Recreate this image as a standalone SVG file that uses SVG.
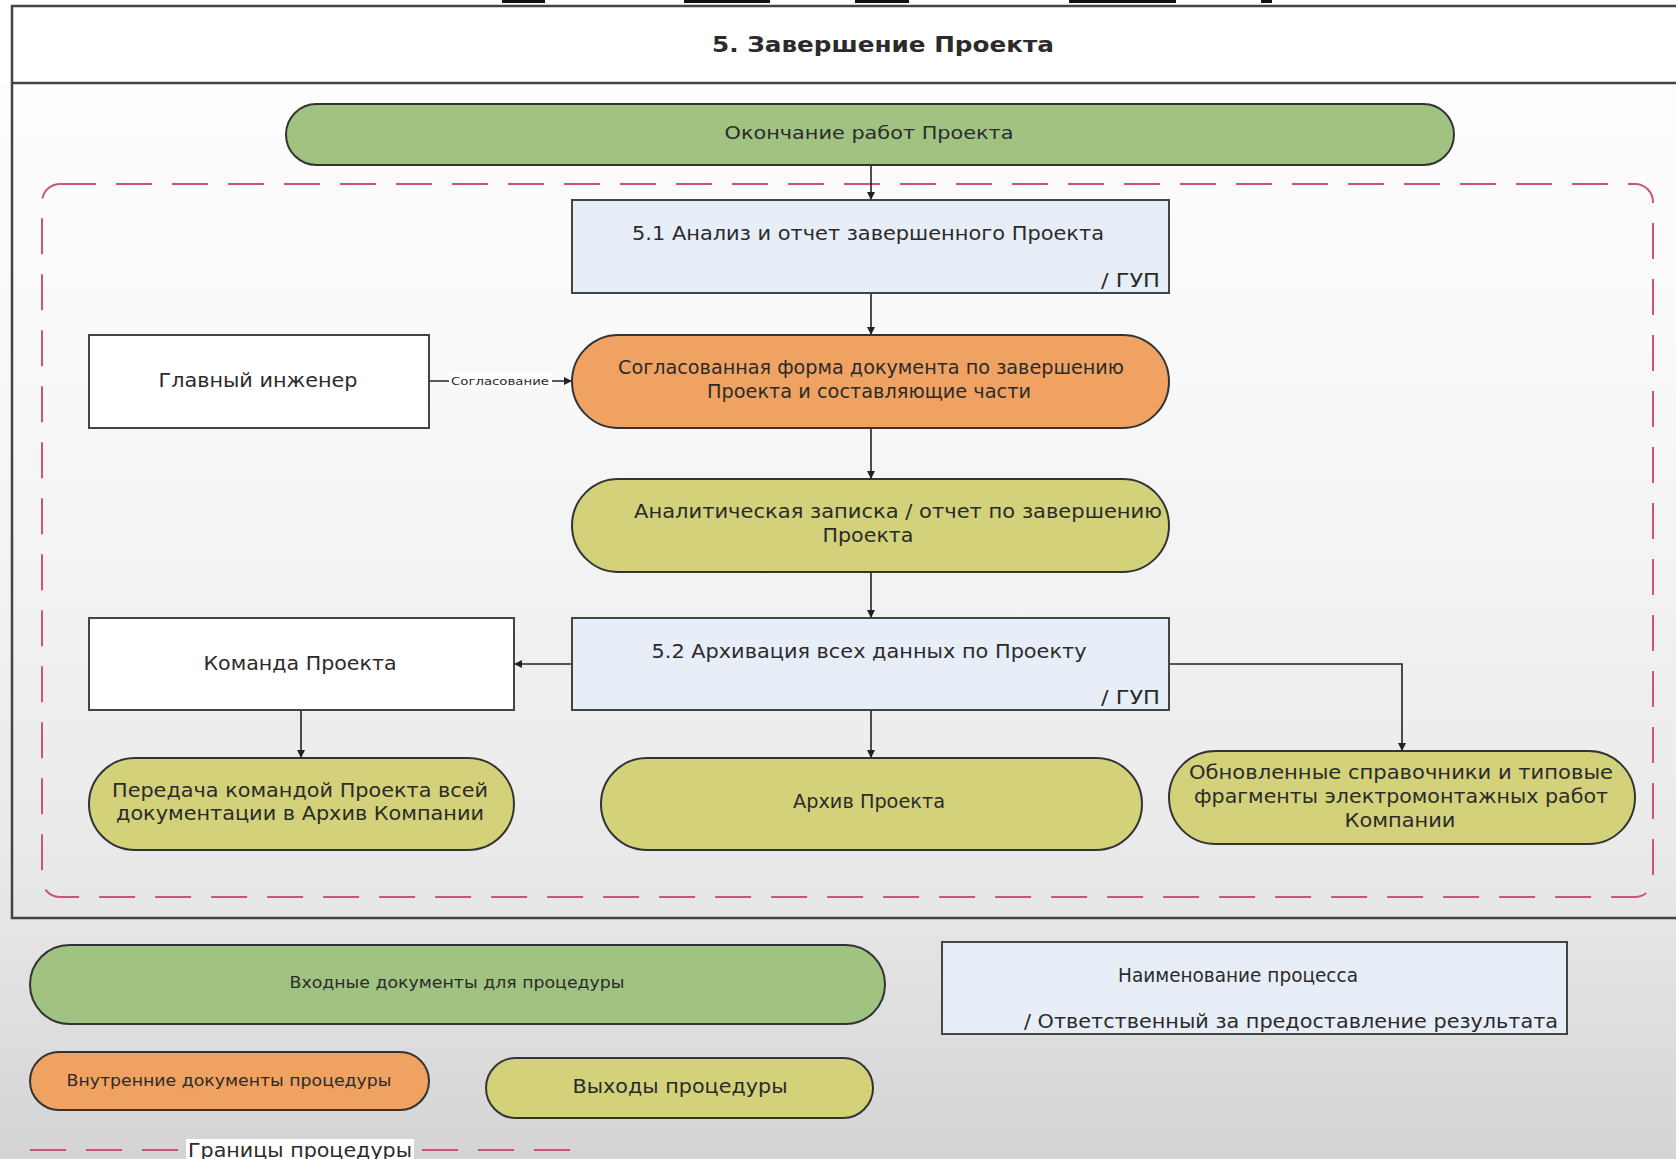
<svg xmlns="http://www.w3.org/2000/svg" width="1676" height="1159" viewBox="0 0 1676 1159">
  <defs>
    <linearGradient id="bg" x1="0" y1="0" x2="0" y2="1">
      <stop offset="0" stop-color="#ffffff"/>
      <stop offset="0.35" stop-color="#f8f8f8"/>
      <stop offset="0.75" stop-color="#e9e9e9"/>
      <stop offset="1" stop-color="#d4d4d4"/>
    </linearGradient>
    <marker id="arrow" viewBox="0 0 10 10" refX="10" refY="5" markerWidth="8" markerHeight="8" markerUnits="userSpaceOnUse" orient="auto">
      <path d="M0,0 L10,5 L0,10 z" fill="#222"/>
    </marker>
    <style>
      .frame { fill: none; stroke: #444; stroke-width: 2.5; }
      .inp { fill: #a0c382; stroke: #333; stroke-width: 2; }
      .int { fill: #f0a262; stroke: #333; stroke-width: 2; }
      .out { fill: #d3d27a; stroke: #333; stroke-width: 2; }
      .proc { fill: #e8eef8; stroke: #444; stroke-width: 2; }
      .role { fill: #ffffff; stroke: #444; stroke-width: 2; }
      .bound { fill: none; stroke: #cc5575; stroke-width: 2; stroke-dasharray: 36 20; }
      .conn { fill: none; stroke: #222; stroke-width: 1.6; }
      text { font-family: "DejaVu Sans", Verdana, sans-serif; fill: #2b2b2b; }
      .t { font-size: 19px; text-anchor: middle; }
      .r { font-size: 19px; text-anchor: end; }
      .c { text-anchor: middle; }
    </style>
  </defs>

  <!-- background -->
  <rect x="0" y="0" width="1676" height="1159" fill="url(#bg)"/>

  <!-- clipped text remnants along the upper edge -->
  <g fill="#111">
    <rect x="502" y="0" width="43" height="3"/>
    <rect x="684" y="0" width="86" height="3"/>
    <rect x="855" y="0" width="54" height="3"/>
    <rect x="1069" y="0" width="107" height="3"/>
    <rect x="1261" y="0" width="11" height="3"/>
  </g>

  <!-- outer frame with title band -->
  <g id="frame">
    <rect x="0" y="6" width="1676" height="77" fill="#ffffff"/>
    <path class="frame" d="M1680,6 H12 V918 H1680 M12,83 H1680"/>
    <text x="883" y="52" class="c" font-size="21" font-weight="bold" textLength="342" lengthAdjust="spacingAndGlyphs" fill="#111">5. Завершение Проекта</text>
  </g>

  <!-- procedure boundary -->
  <rect id="boundary" class="bound" x="42" y="184" width="1611" height="713" rx="18"/>

  <!-- connectors -->
  <g id="connectors">
    <path class="conn" d="M871,165 V200" marker-end="url(#arrow)"/>
    <path class="conn" d="M871,293 V335" marker-end="url(#arrow)"/>
    <path class="conn" d="M429,381 H572" marker-end="url(#arrow)"/>
    <path class="conn" d="M871,428 V479" marker-end="url(#arrow)"/>
    <path class="conn" d="M871,572 V618" marker-end="url(#arrow)"/>
    <path class="conn" d="M572,664 H514" marker-end="url(#arrow)"/>
    <path class="conn" d="M301,710 V758" marker-end="url(#arrow)"/>
    <path class="conn" d="M871,710 V758" marker-end="url(#arrow)"/>
    <path class="conn" d="M1169,664 H1402 V751" marker-end="url(#arrow)"/>
    <g id="label-agree">
      <rect x="449" y="373" width="103" height="15" fill="#ffffff"/>
      <text x="500" y="385" class="c" font-size="11" textLength="98" lengthAdjust="spacingAndGlyphs" fill="#222">Согласование</text>
    </g>
  </g>

  <!-- nodes -->
  <g id="n-start">
    <rect class="inp" x="286" y="104" width="1168" height="61" rx="30.5"/>
    <text x="869" y="139" class="c" font-size="18" textLength="289" lengthAdjust="spacingAndGlyphs">Окончание работ Проекта</text>
  </g>

  <g id="n-5-1">
    <rect class="proc" x="572" y="200" width="597" height="93"/>
    <text x="868" y="240" class="t" textLength="472" lengthAdjust="spacingAndGlyphs">5.1 Анализ и отчет завершенного Проекта</text>
    <text x="1160" y="287" class="r" textLength="59" lengthAdjust="spacingAndGlyphs">/ ГУП</text>
  </g>

  <g id="n-chief">
    <rect class="role" x="89" y="335" width="340" height="93"/>
    <text x="258" y="387" class="t" textLength="199" lengthAdjust="spacingAndGlyphs">Главный инженер</text>
  </g>

  <g id="n-agreed-form">
    <rect class="int" x="572" y="335" width="597" height="93" rx="46.5"/>
    <text x="871" y="374" class="t" textLength="506" lengthAdjust="spacingAndGlyphs">Согласованная форма документа по завершению</text>
    <text x="869" y="398" class="t" textLength="324" lengthAdjust="spacingAndGlyphs">Проекта и составляющие части</text>
  </g>

  <g id="n-analytic">
    <rect class="out" x="572" y="479" width="597" height="93" rx="46.5"/>
    <text x="898" y="518" class="t" textLength="528" lengthAdjust="spacingAndGlyphs">Аналитическая записка / отчет по завершению</text>
    <text x="868" y="542" class="t" textLength="91" lengthAdjust="spacingAndGlyphs">Проекта</text>
  </g>

  <g id="n-5-2">
    <rect class="proc" x="572" y="618" width="597" height="92"/>
    <text x="869" y="658" class="t" textLength="435" lengthAdjust="spacingAndGlyphs">5.2 Архивация всех данных по Проекту</text>
    <text x="1160" y="704" class="r" textLength="59" lengthAdjust="spacingAndGlyphs">/ ГУП</text>
  </g>

  <g id="n-team">
    <rect class="role" x="89" y="618" width="425" height="92"/>
    <text x="300" y="670" class="t" textLength="193" lengthAdjust="spacingAndGlyphs">Команда Проекта</text>
  </g>

  <g id="n-transfer">
    <rect class="out" x="89" y="758" width="425" height="92" rx="46"/>
    <text x="300" y="797" class="t" textLength="376" lengthAdjust="spacingAndGlyphs">Передача командой Проекта всей</text>
    <text x="300" y="820" class="t" textLength="368" lengthAdjust="spacingAndGlyphs">документации в Архив Компании</text>
  </g>

  <g id="n-archive">
    <rect class="out" x="601" y="758" width="541" height="92" rx="46"/>
    <text x="869" y="808" class="t" font-size="17" textLength="152" lengthAdjust="spacingAndGlyphs">Архив Проекта</text>
  </g>

  <g id="n-updated">
    <rect class="out" x="1169" y="751" width="466" height="93" rx="46.5"/>
    <text x="1401" y="779" class="t" textLength="424" lengthAdjust="spacingAndGlyphs">Обновленные справочники и типовые</text>
    <text x="1401" y="803" class="t" textLength="414" lengthAdjust="spacingAndGlyphs">фрагменты электромонтажных работ</text>
    <text x="1400" y="827" class="t" textLength="111" lengthAdjust="spacingAndGlyphs">Компании</text>
  </g>

  <!-- legend -->
  <g id="legend-input">
    <rect class="inp" x="30" y="945" width="855" height="79" rx="39.5"/>
    <text x="457" y="988" class="c" font-size="16" textLength="335" lengthAdjust="spacingAndGlyphs">Входные документы для процедуры</text>
  </g>
  <g id="legend-process">
    <rect class="proc" x="942" y="942" width="625" height="92"/>
    <text x="1238" y="982" class="t" textLength="240" lengthAdjust="spacingAndGlyphs">Наименование процесса</text>
    <text x="1558" y="1028" class="r" textLength="534" lengthAdjust="spacingAndGlyphs">/ Ответственный за предоставление результата</text>
  </g>
  <g id="legend-internal">
    <rect class="int" x="30" y="1052" width="399" height="58" rx="29"/>
    <text x="229" y="1086" class="c" font-size="16" textLength="325" lengthAdjust="spacingAndGlyphs">Внутренние документы процедуры</text>
  </g>
  <g id="legend-output">
    <rect class="out" x="486" y="1058" width="387" height="60" rx="30"/>
    <text x="680" y="1093" class="t" textLength="215" lengthAdjust="spacingAndGlyphs">Выходы процедуры</text>
  </g>
  <g id="legend-boundary">
    <path class="bound" d="M30,1150 H572"/>
    <rect x="186" y="1139" width="228" height="22" fill="#ffffff"/>
    <text x="300" y="1157" class="t" textLength="224" lengthAdjust="spacingAndGlyphs">Границы процедуры</text>
  </g>
</svg>
